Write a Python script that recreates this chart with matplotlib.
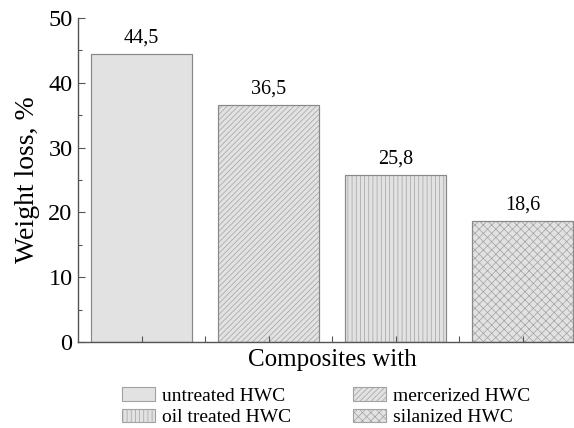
import matplotlib.pyplot as plt
import numpy as np

plt.rcParams['font.family'] = ['Liberation Serif', 'DejaVu Serif']
plt.rcParams['hatch.linewidth'] = 0.5

labels = ["untreated HWC", "mercerized HWC", "oil treated HWC", "silanized HWC"]
values = [44.5, 36.5, 25.8, 18.6]
value_text = ["44,5", "36,5", "25,8", "18,6"]
hatches = ["", "//////", "||||", "xxxx"]

fig = plt.figure(figsize=(5.74, 4.28), dpi=100)
ax = fig.add_axes([0.136, 0.201, 0.885, 0.757])

x = np.arange(1, len(values) + 1)
bars = []
for xi, v, lab, h in zip(x, values, labels, hatches):
    # lighter hatch lines, darker outline drawn on top
    b = ax.bar(xi, v, width=0.8, color="#e2e2e2", edgecolor="#a2a2a2",
               linewidth=0.8, hatch=h, label=lab)
    ax.bar(xi, v, width=0.8, fill=False, edgecolor="#888888", linewidth=0.8)
    bars.append(b)
    ax.text(xi, v + 1.0, value_text[xi - 1], ha="center", va="bottom", fontsize=14.5)

ax.set_xlim(0.5, 4.5)
ax.set_ylim(0, 50)
ax.set_xticks(x)
ax.set_xticklabels([])
ax.set_xticks(x[:-1] + 0.5, minor=True)
ax.set_yticks(np.arange(0, 51, 10))
ax.set_yticks(np.arange(5, 50, 10), minor=True)
ax.tick_params(axis="both", which="major", direction="in", length=5, width=0.8,
               color="#555555", labelsize=17.5, pad=4)
ax.tick_params(axis="both", which="minor", direction="in", length=3, width=0.8,
               color="#555555")
ax.tick_params(axis="x", which="both", length=4)

for s in ["top", "right"]:
    ax.spines[s].set_visible(False)
for s in ["left", "bottom"]:
    ax.spines[s].set_color("#555555")
    ax.spines[s].set_linewidth(1.0)

ax.set_ylabel("Weight loss, %", fontsize=20, labelpad=6)
ax.set_xlabel("Composites with", fontsize=18, labelpad=1)

# legend fills column-wise, so order handles to read row-wise like the original
order = [0, 2, 1, 3]
fig.legend(handles=[bars[i][0] for i in order], labels=[labels[i] for i in order],
           loc="center left", bbox_to_anchor=(0.196, 0.05), ncol=2,
           frameon=False, fontsize=14, borderpad=0,
           handlelength=1.7, handleheight=0.7, handletextpad=0.35,
           columnspacing=3.2, labelspacing=0.2)

fig.savefig("out.png", dpi=100)
